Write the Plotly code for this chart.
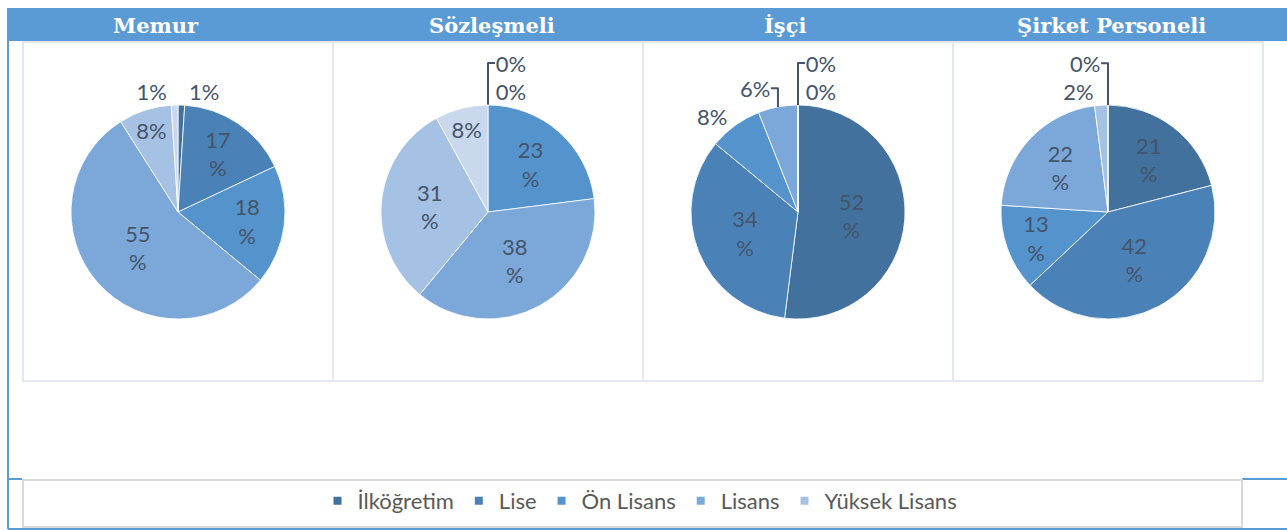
import plotly.graph_objects as go

# Education level distribution by staff type (percent)
categories = ['İlköğretim', 'Lise', 'Ön Lisans', 'Lisans', 'Yüksek Lisans', 'Doktora']
legend_categories = categories[:5]

memur = [1, 17, 18, 55, 8, 1]
sozlesmeli = [0, 0, 23, 38, 31, 8]
isci = [52, 34, 8, 6, 0, 0]
sirket = [21, 42, 13, 22, 2, 0]

titles = ['Memur', 'Sözleşmeli', 'İşçi', 'Şirket Personeli']

COLORS = ['#41719C', '#4A82B8', '#5593CC', '#7BA8D9', '#A5C1E3', '#C9D8EC']
TEXT_COLOR = '#44546A'
BAND = '#5B9BD5'

W, H = 1287, 530


def px_x(v):
    return v / W


def px_y(v):
    return 1 - v / H


# per-pie label style (wrapped inside labels like the original)
pies = [
    (memur, ['outside', 'inside', 'inside', 'inside', 'inside', 'outside'],
     ['%{value}%', '%{value}<br>%', '%{value}<br>%', '%{value}<br>%', '%{value}%', '%{value}%']),
    (sozlesmeli, ['outside', 'outside', 'inside', 'inside', 'inside', 'inside'],
     ['%{value}%', '%{value}%', '%{value}<br>%', '%{value}<br>%', '%{value}<br>%', '%{value}%']),
    (isci, ['inside', 'inside', 'outside', 'outside', 'outside', 'outside'],
     ['%{value}<br>%', '%{value}<br>%', '%{value}%', '%{value}%', '%{value}%', '%{value}%']),
    (sirket, ['inside', 'inside', 'inside', 'inside', 'outside', 'outside'],
     ['%{value}<br>%', '%{value}<br>%', '%{value}<br>%', '%{value}<br>%', '%{value}%', '%{value}%']),
]

centers = [178, 488, 798, 1108]
cy, r = 212, 107

fig = go.Figure()

for (vals, pos, tmpl), cx in zip(pies, centers):
    fig.add_trace(go.Pie(
        labels=categories,
        values=vals,
        sort=False,
        direction='clockwise',
        rotation=0,
        textposition=pos,
        texttemplate=tmpl,
        insidetextorientation='horizontal',
        textfont=dict(family='Lato', size=23, color=TEXT_COLOR),
        marker=dict(colors=COLORS, line=dict(color='#FFFFFF', width=0.8)),
        showlegend=False,
        hoverinfo='label+value',
        domain=dict(x=[px_x(cx - r), px_x(cx + r)], y=[px_y(cy + r), px_y(cy - r)]),
    ))

# legend built from dummy traces so the 6th slice stays out of it
for name, col in zip(legend_categories, COLORS):
    fig.add_trace(go.Scatter(
        x=[None], y=[None], mode='markers', name=name,
        marker=dict(symbol='square', size=8, color=col),
    ))

shapes = [
    # header band
    dict(type='rect', xref='paper', yref='paper', x0=px_x(7), x1=1, y0=px_y(41), y1=px_y(8),
         fillcolor=BAND, line=dict(width=0), layer='below'),
    # left blue frame line
    dict(type='line', xref='paper', yref='paper', x0=px_x(8), x1=px_x(8), y0=px_y(529), y1=px_y(41),
         line=dict(color=BAND, width=2)),
    # blue lines around legend box
    dict(type='line', xref='paper', yref='paper', x0=px_x(8), x1=px_x(22), y0=px_y(479), y1=px_y(479),
         line=dict(color=BAND, width=2)),
    dict(type='line', xref='paper', yref='paper', x0=px_x(1242), x1=1, y0=px_y(479), y1=px_y(479),
         line=dict(color=BAND, width=2)),
    dict(type='line', xref='paper', yref='paper', x0=px_x(8), x1=1, y0=px_y(529), y1=px_y(529),
         line=dict(color=BAND, width=2)),
    # legend box
    dict(type='rect', xref='paper', yref='paper', x0=px_x(23), x1=px_x(1242), y0=px_y(527), y1=px_y(480),
         line=dict(color='#D9D9D9', width=2)),
]

# panel boxes
edges = [23, 333, 643, 953, 1263]
for x0, x1 in zip(edges[:-1], edges[1:]):
    shapes.append(dict(type='rect', xref='paper', yref='paper', x0=px_x(x0), x1=px_x(x1),
                       y0=px_y(381), y1=px_y(42), line=dict(color='#E3E7EE', width=2)))

title_x = [156, 492, 785, 1111]
annotations = [
    dict(text=t, x=px_x(x), y=px_y(26), xref='paper', yref='paper', showarrow=False,
         xanchor='center', yanchor='middle',
         font=dict(family='DejaVu Serif', size=21, color='#FFFFFF', weight='bold'))
    for t, x in zip(titles, title_x)
]

fig.update_layout(
    width=W, height=H,
    margin=dict(t=0, b=0, l=0, r=0),
    paper_bgcolor='#FFFFFF',
    plot_bgcolor='#FFFFFF',
    shapes=shapes,
    annotations=annotations,
    xaxis=dict(visible=False),
    yaxis=dict(visible=False),
    showlegend=True,
    legend=dict(orientation='h', x=px_x(640), xanchor='center', y=px_y(501), yanchor='middle',
                font=dict(family='Lato', size=22, color='#595959'), bgcolor='rgba(0,0,0,0)',
                itemclick=False),
    uniformtext=dict(minsize=20, mode='show'),
)

# drop the default page margin so the figure sits at the top-left corner
fig.write_html("out.html", config={'displayModeBar': False},
               post_script="document.body.style.margin='0';")
